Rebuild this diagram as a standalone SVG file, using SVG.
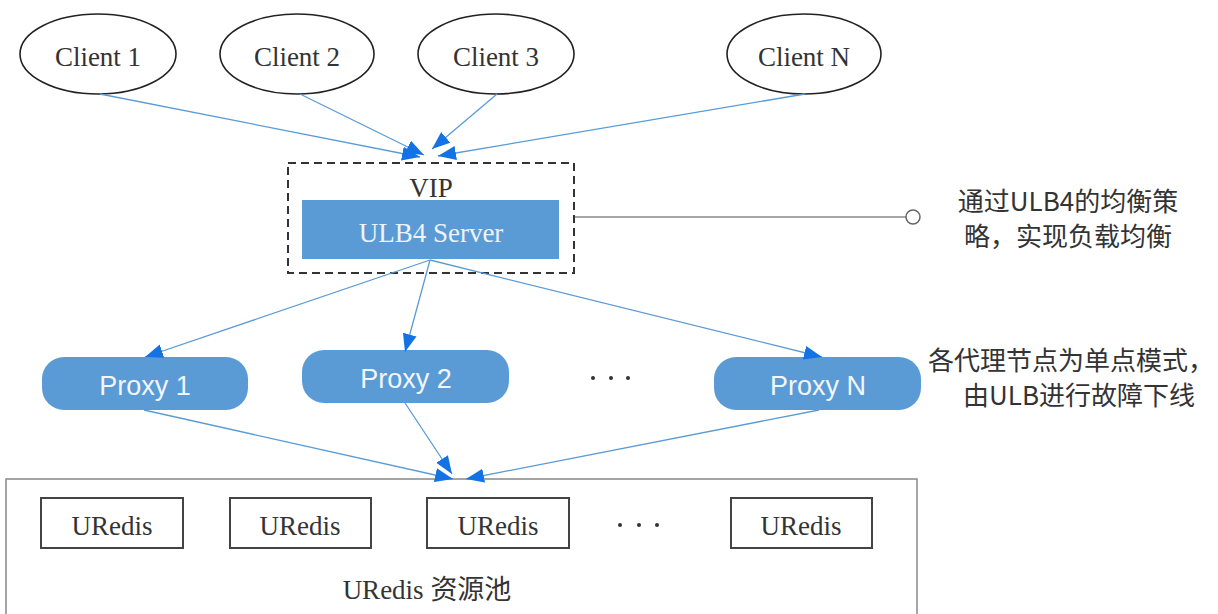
<svg xmlns="http://www.w3.org/2000/svg" width="1218" height="614" viewBox="0 0 1218 614">
<style>
.client{fill:#fff;stroke:#222;stroke-width:1.6}
.serif{font-family:"Liberation Serif","Noto Sans CJK SC",serif;font-size:27px;fill:#333;text-anchor:middle}
.sans{font-family:"Liberation Sans",Arial,sans-serif;font-size:27px;fill:#f2f6fb;text-anchor:middle}
.cjk{font-family:"Noto Sans CJK SC","Noto Sans",sans-serif;font-size:26px;fill:#333;text-anchor:middle}
.proxy{fill:#5b9bd5}
.redis{fill:#fff;stroke:#444;stroke-width:2}
.conn{stroke:#5a9bd5;stroke-width:1.3;fill:none;marker-end:url(#arr)}
</style>
<defs>
<marker id="arr" markerUnits="userSpaceOnUse" markerWidth="20" markerHeight="16" refX="18" refY="8" orient="auto">
<path d="M0,1 L18,8 L0,15 Z" fill="#1372e4"/>
</marker>
</defs>
<rect width="1218" height="614" fill="#fff"/>

<g id="pool">
<rect x="6" y="479" width="911" height="150" fill="#fff" stroke="#888" stroke-width="1.5"/>
<text class="serif" x="427" y="599">URedis 资源池</text>
</g>
<g id="redis1"><rect class="redis" x="41" y="498" width="142" height="50"/><text class="serif" x="112" y="535">URedis</text></g>
<g id="redis2"><rect class="redis" x="230" y="498" width="141" height="50"/><text class="serif" x="300" y="535">URedis</text></g>
<g id="redis3"><rect class="redis" x="427" y="498" width="142" height="50"/><text class="serif" x="498" y="535">URedis</text></g>
<g id="redis-dots" fill="#333"><circle cx="620" cy="525" r="2"/><circle cx="639" cy="525" r="2"/><circle cx="657" cy="525" r="2"/></g>
<g id="redis4"><rect class="redis" x="731" y="498" width="141" height="50"/><text class="serif" x="801" y="535">URedis</text></g>

<g id="client1"><ellipse class="client" cx="98" cy="54" rx="78" ry="40"/><text class="serif" x="98" y="66">Client 1</text></g>
<g id="client2"><ellipse class="client" cx="297" cy="54" rx="77" ry="40"/><text class="serif" x="297" y="66">Client 2</text></g>
<g id="client3"><ellipse class="client" cx="496" cy="54" rx="78" ry="40"/><text class="serif" x="496" y="66">Client 3</text></g>
<g id="clientN"><ellipse class="client" cx="804" cy="54" rx="77" ry="40"/><text class="serif" x="804" y="66">Client N</text></g>

<g id="vip">
<rect x="288" y="163" width="286" height="110" fill="none" stroke="#333" stroke-width="2" stroke-dasharray="8,5"/>
<text class="serif" x="431" y="197">VIP</text>
<rect x="302" y="200" width="257" height="59" fill="#5b9bd5"/>
<text class="serif" x="431" y="242" style="fill:#eef3fa">ULB4 Server</text>
</g>

<g id="note1">
<line x1="575" y1="217" x2="906" y2="217" stroke="#888" stroke-width="1.5"/>
<circle cx="913" cy="217" r="7" fill="#fff" stroke="#666" stroke-width="1.5"/>
<text class="cjk" x="1068" y="211">通过ULB4的均衡策</text>
<text class="cjk" x="1068" y="246">略，实现负载均衡</text>
</g>

<g id="proxy1"><rect class="proxy" x="42" y="357" width="206" height="53" rx="22"/><text class="sans" x="145" y="395">Proxy 1</text></g>
<g id="proxy2"><rect class="proxy" x="302" y="350" width="207" height="53" rx="22"/><text class="sans" x="406" y="388">Proxy 2</text></g>
<g id="proxy-dots" fill="#333"><circle cx="593" cy="378" r="2"/><circle cx="611" cy="378" r="2"/><circle cx="628" cy="378" r="2"/></g>
<g id="proxyN"><rect class="proxy" x="714" y="357" width="207" height="53" rx="22"/><text class="sans" x="818" y="395">Proxy N</text></g>

<g id="note2">
<text class="cjk" x="1071" y="370">各代理节点为单点模式，</text>
<text class="cjk" x="1079" y="405">由ULB进行故障下线</text>
</g>

<g id="connectors">
<line class="conn" x1="100" y1="94" x2="420" y2="157"/>
<line class="conn" x1="300" y1="94" x2="424" y2="155"/>
<line class="conn" x1="497" y1="94" x2="432" y2="149"/>
<line class="conn" x1="805" y1="94" x2="438" y2="156"/>
<line class="conn" x1="430" y1="260" x2="145" y2="357"/>
<line class="conn" x1="430" y1="260" x2="405" y2="352"/>
<line class="conn" x1="430" y1="260" x2="822" y2="357"/>
<line class="conn" x1="144" y1="410" x2="453" y2="479"/>
<line class="conn" x1="405" y1="403" x2="452" y2="474"/>
<line class="conn" x1="819" y1="410" x2="466" y2="479"/>
</g>
</svg>
